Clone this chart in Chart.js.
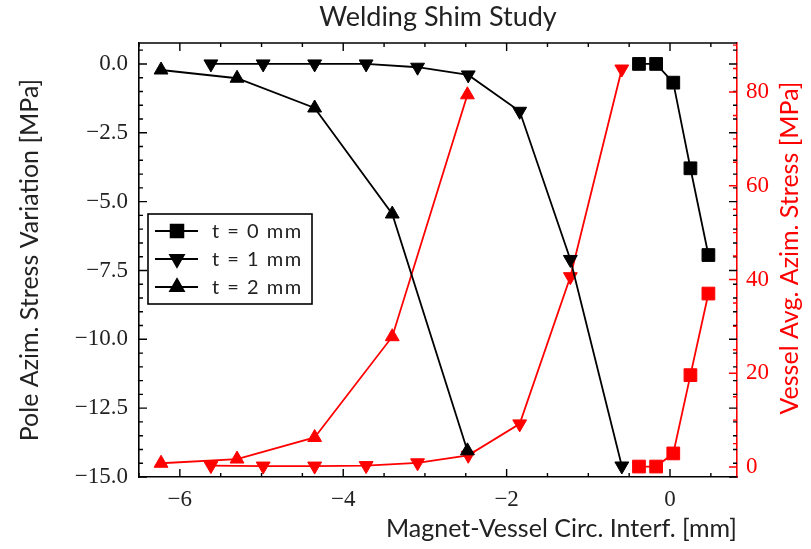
<!DOCTYPE html>
<html>
<head>
<meta charset="utf-8">
<title>Welding Shim Study</title>
<script src="https://cdn.jsdelivr.net/npm/chart.js@4.4.1/dist/chart.umd.min.js"></script>
<style>
  html, body { margin: 0; padding: 0; background: #fff; }
  #wrap { width: 811px; height: 549px; }
</style>
</head>
<body>
<div id="wrap"><canvas id="chart" width="811" height="549"></canvas></div>
<script>
// interference [mm] and the two stresses per shim thickness
const t0X = [-0.38, -0.17, 0.04, 0.25, 0.47];
const t0Pole = [0.0, 0.0, -0.68, -3.79, -6.94];
const t0Vessel = [0.1, 0.1, 2.9, 19.6, 37.0];

const t1X = [-5.62, -4.98, -4.35, -3.72, -3.09, -2.47, -1.84, -1.22, -0.59];
const t1Pole = [0.0, 0.0, 0.0, 0.0, -0.12, -0.4, -1.72, -7.1, -14.6];
const t1Vessel = [0.3, 0.2, 0.2, 0.3, 0.9, 2.5, 9.2, 40.6, 84.9];

const t2X = [-6.23, -5.30, -4.35, -3.40, -2.48];
const t2Pole = [-0.22, -0.52, -1.6, -5.45, -14.05];
const t2Vessel = [0.8, 1.7, 6.3, 27.8, 79.4];

const seriesLabels = ['t = 0 mm', 't = 1 mm', 't = 2 mm'];
const rightLabel = 'Vessel Avg. Azim. Stress [MPa]';

const RED = '#ff0000';
const BLACK = '#000000';
const TEXT = '#222222';

function pts(xs, ys) {
    return xs.map((x, i) => ({ x: x, y: ys[i] }));
}

function ds(label, xs, ys, color, axis, style, rot, r) {
    return {
        label: label, data: pts(xs, ys), yAxisID: axis,
        borderColor: color, backgroundColor: color,
        borderWidth: 1.8, pointStyle: style, pointRotation: rot,
        pointRadius: r, pointHoverRadius: r, pointBorderWidth: 1,
        pointBackgroundColor: color, pointBorderColor: color,
        tension: 0, fill: false
    };
}

const minus = v => String(v).replace('-', '\u2212');

// matplotlib-like inward ticks on all four sides + top spine
const insideTicks = {
    id: 'insideTicks',
    afterDraw(chart) {
        const { ctx, chartArea: a } = chart;
        const x = chart.scales.x, y = chart.scales.y, y1 = chart.scales.y1;
        const each = (scale, step, fn) => {
            const start = Math.ceil(scale.min / step - 1e-9);
            for (let k = start; k * step <= scale.max + 1e-9; k++) fn(k * step);
        };
        const isMajor = (v, step) => Math.abs(v / step - Math.round(v / step)) < 1e-6;
        ctx.save();
        ctx.lineWidth = 1.4;
        ctx.beginPath();
        ctx.strokeStyle = BLACK;
        each(x, 0.5, v => {
            const px = x.getPixelForValue(v), len = isMajor(v, 2) ? 8 : 4;
            ctx.moveTo(px, a.bottom); ctx.lineTo(px, a.bottom - len);
            ctx.moveTo(px, a.top); ctx.lineTo(px, a.top + len);
        });
        each(y, 0.5, v => {
            const py = y.getPixelForValue(v), len = isMajor(v, 2.5) ? 8 : 4;
            ctx.moveTo(a.left, py); ctx.lineTo(a.left + len, py);
            ctx.moveTo(a.right, py); ctx.lineTo(a.right - len, py);
        });
        ctx.stroke();
        ctx.beginPath();
        ctx.strokeStyle = RED;
        each(y1, 5, v => {
            const py = y1.getPixelForValue(v), len = isMajor(v, 20) ? 8 : 4;
            ctx.moveTo(a.right, py); ctx.lineTo(a.right - len, py);
        });
        ctx.stroke();
        ctx.beginPath();
        ctx.strokeStyle = BLACK;
        ctx.lineWidth = 1.6;
        ctx.moveTo(a.left, a.top); ctx.lineTo(a.right, a.top);
        ctx.stroke();

        // right axis title reads bottom-to-top like the left one
        ctx.fillStyle = RED;
        ctx.font = '25px Lato';
        ctx.textAlign = 'center';
        ctx.textBaseline = 'middle';
        ctx.translate(chart.width - 21, 248);
        ctx.rotate(-Math.PI / 2);
        ctx.fillText(rightLabel, 0, 0);
        ctx.restore();
    }
};

// legend box in the upper left, only the black series
const boxLegend = {
    id: 'boxLegend',
    afterDraw(chart) {
        const ctx = chart.ctx;
        const bx = 148, by = 214, bw = 164, bh = 90;
        ctx.save();
        ctx.fillStyle = '#fff';
        ctx.fillRect(bx, by, bw, bh);
        ctx.strokeStyle = BLACK;
        ctx.lineWidth = 1.6;
        ctx.strokeRect(bx, by, bw, bh);
        ctx.font = '20px Lato';
        ctx.letterSpacing = '1.5px';
        ctx.textBaseline = 'middle';
        seriesLabels.forEach((lab, i) => {
            const d = chart.data.datasets[i];
            const ry = by + 17 + i * 28;
            ctx.strokeStyle = BLACK;
            ctx.lineWidth = 1.8;
            ctx.beginPath();
            ctx.moveTo(bx + 7, ry); ctx.lineTo(bx + 50, ry);
            ctx.stroke();
            ctx.fillStyle = BLACK;
            Chart.helpers.drawPoint(ctx, {
                pointStyle: d.pointStyle, rotation: d.pointRotation,
                radius: d.pointRadius, borderWidth: 1
            }, bx + 29, ry);
            ctx.fillStyle = TEXT;
            ctx.fillText(lab, bx + 64, ry + 1);
        });
        ctx.restore();
    }
};

new Chart(document.getElementById('chart').getContext('2d'), {
    type: 'line',
    data: {
        datasets: [
            ds(seriesLabels[0], t0X, t0Pole, BLACK, 'y', 'rect', 0, 9),
            ds(seriesLabels[1], t1X, t1Pole, BLACK, 'y', 'triangle', 180, 8),
            ds(seriesLabels[2], t2X, t2Pole, BLACK, 'y', 'triangle', 0, 8),
            ds('', t0X, t0Vessel, RED, 'y1', 'rect', 0, 9),
            ds('', t1X, t1Vessel, RED, 'y1', 'triangle', 180, 8),
            ds('', t2X, t2Vessel, RED, 'y1', 'triangle', 0, 8)
        ]
    },
    options: {
        responsive: false,
        animation: false,
        devicePixelRatio: 1,
        layout: { padding: 0 },
        plugins: {
            legend: { display: false },
            tooltip: { enabled: false },
            title: {
                display: true, text: 'Welding Shim Study', color: TEXT, fullSize: false,
                font: { family: 'Lato', size: 27, weight: 'normal' },
                padding: { top: 1, bottom: 9.6 }
            }
        },
        scales: {
            x: {
                type: 'linear', position: 'bottom', min: -6.5, max: 0.82,
                grid: { display: false, drawTicks: false },
                border: { display: true, color: BLACK, width: 1.6 },
                ticks: {
                    stepSize: 2, includeBounds: false, autoSkip: false, padding: 9,
                    color: TEXT, font: { family: 'Liberation Serif', size: 23 },
                    callback: v => minus(v)
                },
                title: {
                    display: true, text: 'Magnet-Vessel Circ. Interf. [mm]', color: TEXT,
                    align: 'end',
                    font: { family: 'Lato', size: 25 }, padding: { top: 0, bottom: 5 }
                },
                afterFit: s => { s.height = 72; }
            },
            y: {
                type: 'linear', position: 'left', min: -15, max: 0.76,
                grid: { display: false, drawTicks: false },
                border: { display: true, color: BLACK, width: 1.6 },
                ticks: {
                    stepSize: 2.5, includeBounds: false, autoSkip: false, padding: 11,
                    color: TEXT, font: { family: 'Liberation Serif', size: 23 },
                    callback: v => minus(Number(v).toFixed(1))
                },
                title: {
                    display: true, text: 'Pole Azim. Stress Variation [MPa]', color: TEXT,
                    font: { family: 'Lato', size: 25 }, padding: { top: 15, bottom: 0 }
                },
                afterFit: s => { s.width = 139; }
            },
            y1: {
                type: 'linear', position: 'right', min: -2.13, max: 90.45,
                grid: { display: false, drawTicks: false },
                border: { display: true, color: RED, width: 1.6 },
                ticks: {
                    stepSize: 20, includeBounds: false, autoSkip: false, padding: 9,
                    color: RED, font: { family: 'Liberation Serif', size: 23 },
                    callback: v => minus(v)
                },
                afterFit: s => { s.width = 74; }
            }
        }
    },
    plugins: [insideTicks, boxLegend]
});
</script>
</body>
</html>
